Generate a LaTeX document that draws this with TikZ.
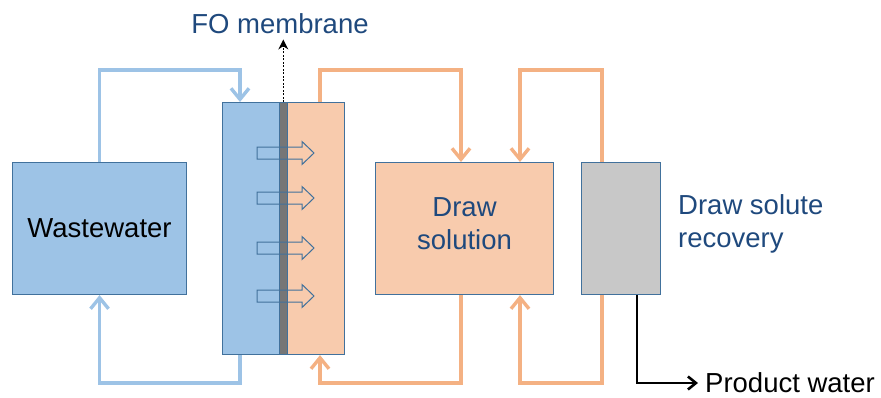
\documentclass[tikz,border=0pt]{standalone}
\usepackage{fontspec}
\setmainfont{Liberation Sans}
\usetikzlibrary{arrows.meta,calc}

\definecolor{bluefill}{RGB}{157,195,230}
\definecolor{boxedge}{RGB}{65,113,156}
\definecolor{orangefill}{RGB}{248,203,173}
\definecolor{blueflow}{RGB}{157,195,230}
\definecolor{orangeflow}{RGB}{244,177,131}
\definecolor{memgray}{RGB}{118,118,118}
\definecolor{recgray}{RGB}{200,200,200}
\definecolor{labelblue}{RGB}{31,73,125}

\tikzset{
  unit/.style={draw=boxedge, line width=1.1pt, inner sep=0pt, anchor=north west},
  bigtext/.style={font=\fontsize{27.5}{32.5}\selectfont},
  flow/.style={line width=3.4pt, line join=miter,
    -{Straight Barb[length=11pt,width=18pt]}},
  bluepipe/.style={flow, draw=blueflow},
  orangepipe/.style={flow, draw=orangeflow},
  fluxarrow/.style={draw=boxedge, line width=1pt, line join=miter},
}

\begin{document}
\begin{tikzpicture}[x=1pt,y=-1pt]
\useasboundingbox (0,0) rectangle (881,397);

% tanks and module halves
\node[unit, fill=bluefill, minimum width=174pt, minimum height=132pt]
  (ww) at (12,162) {};
\node[bigtext, text=black] (wwlabel) at (ww.center) {Wastewater};
\node[unit, fill=bluefill, minimum width=57pt, minimum height=252pt] (feed) at (222,102) {};
\node[unit, fill=orangefill, minimum width=57pt, minimum height=252pt] (drawside) at (287,102) {};
\node[draw=boxedge, fill=memgray, line width=0.6pt, inner sep=0pt, anchor=north west,
  minimum width=8pt, minimum height=252pt] (mem) at (279,102) {};
\node[unit, fill=orangefill, minimum width=178pt, minimum height=132pt] (ds) at (375,162) {};
\node[bigtext, text=labelblue, align=center] (dslabel)
  at ([yshift=5pt]ds.center) {Draw\\solution};
\node[unit, fill=recgray, minimum width=79pt, minimum height=132pt] (rec) at (581,162) {};

% water flux through the membrane
\foreach \c in {153,198,248,296}{
  \draw[fluxarrow] (257,\c-6) -- (302,\c-6) -- (302,\c-11.5) -- (314,\c)
    -- (302,\c+11.5) -- (302,\c+6) -- (257,\c+6) -- cycle;
}

% pipe levels
\coordinate (top) at (0,70);
\coordinate (bot) at (0,383);

% feed loop
\coordinate (feedin) at ([xshift=18pt]feed.north west);
\coordinate (feedout) at ([xshift=18pt]feed.south west);
\draw[bluepipe] (ww.north) -- (ww.north |- top) -| (feedin);
\draw[bluepipe] (feedout) -- (feedout |- bot) -| (ww.south);

% draw solution loops
\coordinate (dsout) at ([xshift=33pt]drawside.north west);
\coordinate (dsret) at ([xshift=33pt]drawside.south west);
\coordinate (dsa) at ([xshift=86pt]ds.north west);
\coordinate (dsb) at ([xshift=145pt]ds.north west);
\coordinate (dsc) at ([xshift=86pt]ds.south west);
\coordinate (dsd) at ([xshift=145pt]ds.south west);
\coordinate (recin) at ([xshift=21pt]rec.north west);
\coordinate (recout) at ([xshift=21pt]rec.south west);
\draw[orangepipe] (dsout) -- (dsout |- top) -| (dsa);
\draw[orangepipe] (dsc) -- (dsc |- bot) -| (dsret);
\draw[orangepipe] (recin) -- (recin |- top) -| (dsb);
\draw[orangepipe] (recout) -- (recout |- bot) -| (dsd);

% product water
\coordinate (prod) at ([xshift=56pt]rec.south west);
\node[bigtext, anchor=base west, inner sep=0pt] (pw) at (705,392) {Product water};
\draw[line width=2.6pt, line join=miter, -{Straight Barb[length=8pt,width=13pt]}]
  (prod) -- (prod |- bot) -- ([xshift=-7pt]pw.west |- bot);

% membrane label
\node[bigtext, text=labelblue, anchor=base, inner sep=0pt] (fo) at (280,33) {FO membrane};
\draw[line width=1.3pt, dash pattern=on 2pt off 1.5pt, -{Stealth[length=10pt,width=10pt]}]
  (mem.north) -- ([yshift=-6pt]fo.south -| mem.north);

% recovery label
\node[bigtext, text=labelblue, align=left, anchor=west, inner sep=0pt] (reclabel)
  at (678,224) {Draw solute\\recovery};
\end{tikzpicture}
\end{document}
